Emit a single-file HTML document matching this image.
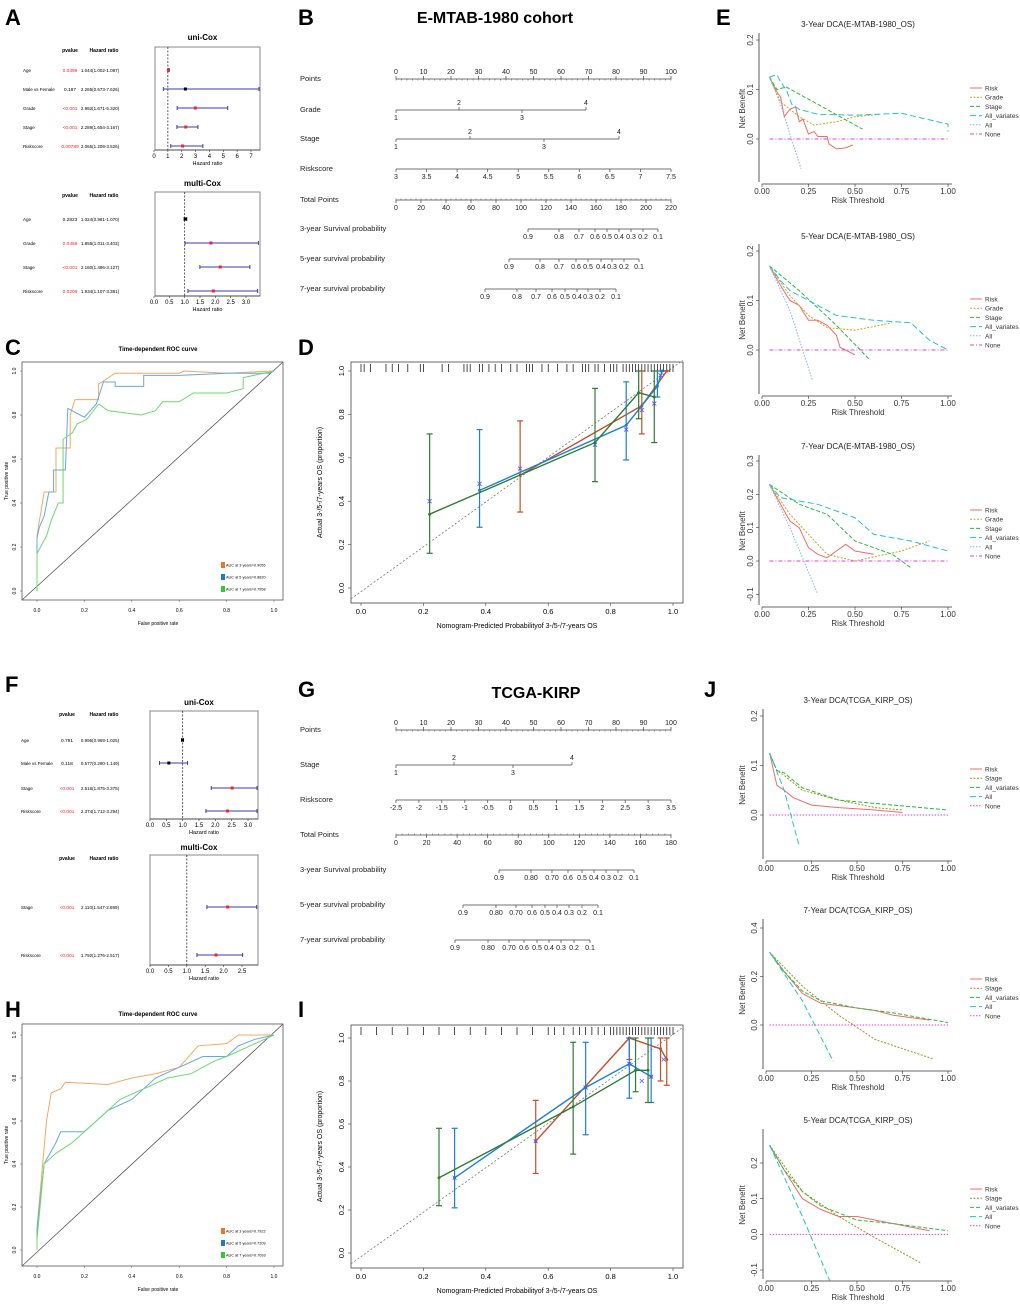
<!DOCTYPE html>
<html><head><meta charset="utf-8"><style>
body{margin:0;background:#fff;}
svg{display:block;font-family:"Liberation Sans",Arial,sans-serif;}
</style></head><body>
<svg id="fig" width="1020" height="1305" viewBox="0 0 1020 1305" xmlns="http://www.w3.org/2000/svg"></svg>
<script>
// ---------- DATA ----------
const uniA_names=["Age","Male vs Female","Grade","Stage","Riskscore"];
const uniA_p=["0.0399","0.187","<0.001","<0.001","0.00789"];
const uniA_hrText=["1.044(1.002-1.087)","2.265(0.673-7.626)","2.982(1.671-5.320)","2.289(1.654-3.167)","2.065(1.209-3.526)"];
const uniA_hr=[1.044,2.265,2.982,2.289,2.065];
const uniA_lo=[1.002,0.673,1.671,1.654,1.209];
const uniA_hi=[1.087,7.626,5.320,3.167,3.526];
const multiA_names=["Age","Grade","Stage","Riskscore"];
const multiA_p=["0.2823","0.0459","<0.001","0.0206"];
const multiA_hrText=["1.024(0.981-1.070)","1.855(1.011-3.403)","2.160(1.496-3.127)","1.934(1.107-3.381)"];
const multiA_hr=[1.024,1.855,2.160,1.934];
const multiA_lo=[0.981,1.011,1.496,1.107];
const multiA_hi=[1.070,3.403,3.127,3.381];
const uniF_names=["Age","Male vs Female","Stage","Riskscore"];
const uniF_p=["0.791","0.118","<0.001","<0.001"];
const uniF_hrText=["0.996(0.969-1.025)","0.577(0.290-1.149)","2.516(1.875-3.375)","2.374(1.712-3.294)"];
const uniF_hr=[0.996,0.577,2.516,2.374];
const uniF_lo=[0.969,0.290,1.875,1.712];
const uniF_hi=[1.025,1.149,3.375,3.294];
const multiF_names=["Stage","Riskscore"];
const multiF_p=["<0.001","<0.001"];
const multiF_hrText=["2.110(1.547-2.899)","1.792(1.276-2.517)"];
const multiF_hr=[2.110,1.792];
const multiF_lo=[1.547,1.276];
const multiF_hi=[2.899,2.517];

// ROC
const rocC_3y=[[0,0],[0,0.25],[0.01,0.32],[0.02,0.38],[0.03,0.45],[0.08,0.45],[0.08,0.65],[0.14,0.65],[0.14,0.8],[0.16,0.87],[0.26,0.87],[0.26,0.94],[0.33,0.99],[0.6,0.99],[0.62,1.0],[0.8,0.99],[1,1]];
const rocC_5y=[[0,0],[0,0.24],[0.01,0.29],[0.03,0.34],[0.05,0.45],[0.07,0.45],[0.07,0.55],[0.12,0.55],[0.13,0.83],[0.2,0.79],[0.25,0.85],[0.28,0.95],[0.33,0.95],[0.33,0.93],[0.45,0.93],[0.45,0.98],[0.6,0.98],[0.8,0.99],[0.98,0.99],[1,1]];
const rocC_7y=[[0,0],[0,0.17],[0.02,0.21],[0.04,0.25],[0.06,0.32],[0.09,0.4],[0.11,0.4],[0.11,0.69],[0.15,0.72],[0.17,0.76],[0.21,0.78],[0.26,0.85],[0.3,0.82],[0.44,0.8],[0.5,0.82],[0.53,0.86],[0.6,0.86],[0.66,0.9],[0.8,0.9],[0.87,0.92],[0.87,0.97],[1,1]];
const rocC_legend=["AUC at 3 years=0.9055","AUC at 5 years=0.8820","AUC at 7 years=0.7958"];
const rocH_3y=[[0,0],[0,0.1],[0.02,0.35],[0.04,0.6],[0.06,0.73],[0.1,0.75],[0.12,0.78],[0.3,0.77],[0.4,0.8],[0.5,0.82],[0.6,0.85],[0.68,0.95],[0.8,0.96],[0.85,1.0],[1,1]];
const rocH_5y=[[0,0],[0,0.1],[0.03,0.4],[0.08,0.5],[0.1,0.55],[0.2,0.55],[0.3,0.65],[0.4,0.7],[0.5,0.8],[0.6,0.85],[0.7,0.9],[0.8,0.9],[0.85,0.95],[0.92,0.98],[1,1]];
const rocH_7y=[[0,0],[0,0.05],[0.03,0.4],[0.08,0.45],[0.15,0.5],[0.25,0.6],[0.35,0.7],[0.45,0.75],[0.55,0.8],[0.65,0.82],[0.75,0.88],[0.8,0.9],[0.9,0.95],[1,1]];
const rocH_legend=["AUC at 3 years=0.7922","AUC at 5 years=0.7209","AUC at 7 years=0.7093"];

// Calibration [pred, obs, lo, hi]
const calD_3y=[[0.51,0.52,0.35,0.77],[0.9,0.84,0.71,1.0],[0.98,1.0,1.0,1.0]];
const calD_5y=[[0.38,0.45,0.28,0.73],[0.85,0.75,0.59,0.95],[0.95,0.93,0.88,1.0],[0.965,1.0,1.0,1.0]];
const calD_7y=[[0.22,0.34,0.16,0.71],[0.75,0.67,0.49,0.92],[0.89,0.9,0.78,1.0],[0.94,0.88,0.67,1.0]];
const calD_x=[[0.22,0.40],[0.38,0.48],[0.51,0.55],[0.75,0.66],[0.85,0.73],[0.9,0.82],[0.94,0.85],[0.96,0.98]];
const calD_rug=[0.0,0.01,0.03,0.08,0.1,0.12,0.15,0.19,0.2,0.26,0.28,0.33,0.34,0.35,0.38,0.39,0.41,0.43,0.45,0.48,0.5,0.53,0.54,0.55,0.58,0.6,0.63,0.66,0.68,0.71,0.72,0.73,0.75,0.76,0.78,0.8,0.81,0.82,0.84,0.85,0.86,0.87,0.88,0.89,0.9,0.91,0.92,0.93,0.94,0.95,0.96,0.97,0.98,0.99,1.0];
const calI_3y=[[0.56,0.52,0.37,0.71],[0.86,1.0,0.9,1.0],[0.96,0.95,0.8,1.0],[0.98,0.9,0.78,1.0]];
const calI_5y=[[0.3,0.35,0.21,0.58],[0.72,0.77,0.55,0.98],[0.86,0.88,0.72,1.0],[0.93,0.82,0.7,1.0]];
const calI_7y=[[0.25,0.35,0.22,0.58],[0.68,0.68,0.46,0.98],[0.88,0.85,0.75,1.0],[0.92,0.85,0.7,1.0]];
const calI_x=[[0.3,0.35],[0.56,0.52],[0.72,0.77],[0.86,0.88],[0.9,0.8],[0.93,0.82],[0.97,0.9]];
const calI_rug=[0.0,0.05,0.1,0.15,0.2,0.25,0.3,0.35,0.4,0.45,0.5,0.55,0.6,0.62,0.65,0.68,0.7,0.72,0.74,0.76,0.78,0.8,0.81,0.82,0.83,0.84,0.85,0.86,0.87,0.88,0.89,0.9,0.91,0.92,0.93,0.94,0.95,0.96,0.97,0.98,0.99,1.0];

// DCA series [threshold, net benefit]
const e1_risk=[[0.04,0.125],[0.08,0.095],[0.1,0.085],[0.12,0.045],[0.15,0.06],[0.18,0.065],[0.2,0.035],[0.22,0.04],[0.25,0.01],[0.28,0.015],[0.3,0.005],[0.35,0.005],[0.36,-0.01],[0.4,-0.02],[0.45,-0.018],[0.49,-0.012]];
const e1_grade=[[0.04,0.125],[0.1,0.075],[0.2,0.045],[0.28,0.028],[0.4,0.035],[0.5,0.045],[0.63,0.05]];
const e1_stage=[[0.04,0.125],[0.08,0.1],[0.13,0.105],[0.3,0.07],[0.54,0.02]];
const e1_allv=[[0.04,0.125],[0.08,0.13],[0.1,0.115],[0.13,0.1],[0.16,0.07],[0.2,0.06],[0.3,0.05],[0.5,0.048],[0.75,0.052],[1.0,0.03],[1.0,0.015]];
const e1_all=[[0.04,0.125],[0.1,0.07],[0.15,0.01],[0.21,-0.06]];
const e2_risk=[[0.04,0.17],[0.1,0.13],[0.15,0.1],[0.2,0.09],[0.25,0.06],[0.3,0.06],[0.35,0.05],[0.4,0.03],[0.42,0.005],[0.45,0.0],[0.5,-0.01]];
const e2_grade=[[0.04,0.17],[0.15,0.11],[0.25,0.07],[0.35,0.045],[0.5,0.04],[0.7,0.055]];
const e2_stage=[[0.04,0.17],[0.2,0.12],[0.4,0.05],[0.58,-0.02]];
const e2_allv=[[0.04,0.17],[0.1,0.14],[0.15,0.12],[0.25,0.1],[0.4,0.07],[0.6,0.06],[0.8,0.055],[0.9,0.02],[1.0,0.0]];
const e2_all=[[0.04,0.17],[0.15,0.08],[0.27,-0.06]];
const e3_risk=[[0.04,0.23],[0.1,0.17],[0.15,0.12],[0.2,0.1],[0.25,0.04],[0.3,0.02],[0.35,0.01],[0.4,0.03],[0.45,0.05],[0.5,0.03],[0.6,0.02]];
const e3_grade=[[0.04,0.23],[0.15,0.14],[0.25,0.08],[0.35,0.02],[0.5,0.0],[0.75,0.03],[0.9,0.06]];
const e3_stage=[[0.04,0.23],[0.2,0.17],[0.35,0.14],[0.5,0.06],[0.7,0.02],[0.8,-0.02]];
const e3_allv=[[0.04,0.23],[0.1,0.19],[0.2,0.18],[0.3,0.17],[0.4,0.15],[0.5,0.13],[0.6,0.08],[0.8,0.06],[1.0,0.03]];
const e3_all=[[0.04,0.23],[0.15,0.1],[0.3,-0.1]];
const j1_risk=[[0.02,0.125],[0.06,0.06],[0.1,0.05],[0.15,0.035],[0.25,0.02],[0.4,0.015],[0.6,0.01],[0.75,0.005]];
const j1_stage=[[0.02,0.125],[0.06,0.09],[0.1,0.08],[0.2,0.05],[0.4,0.03],[0.6,0.015],[0.75,0.01]];
const j1_allv=[[0.02,0.125],[0.06,0.09],[0.1,0.085],[0.2,0.055],[0.4,0.03],[0.7,0.02],[1.0,0.01]];
const j1_all=[[0.02,0.125],[0.1,0.05],[0.18,-0.06]];
const j2_risk=[[0.02,0.3],[0.1,0.22],[0.2,0.13],[0.3,0.09],[0.4,0.08],[0.5,0.07],[0.6,0.06],[0.7,0.04],[0.9,0.02]];
const j2_stage=[[0.02,0.3],[0.2,0.16],[0.4,0.04],[0.6,-0.06],[0.92,-0.14]];
const j2_allv=[[0.02,0.3],[0.1,0.22],[0.2,0.14],[0.3,0.1],[0.5,0.07],[0.7,0.05],[1.0,0.01]];
const j2_all=[[0.02,0.3],[0.2,0.1],[0.37,-0.15]];
const j3_risk=[[0.02,0.25],[0.1,0.18],[0.2,0.1],[0.3,0.07],[0.4,0.05],[0.5,0.05],[0.6,0.04],[0.8,0.02],[0.9,0.01]];
const j3_stage=[[0.02,0.25],[0.2,0.12],[0.4,0.05],[0.6,-0.01],[0.85,-0.08]];
const j3_allv=[[0.02,0.25],[0.1,0.18],[0.2,0.12],[0.3,0.08],[0.5,0.04],[0.7,0.03],[1.0,0.01]];
const j3_all=[[0.02,0.25],[0.2,0.05],[0.35,-0.13]];

// Nomograms
const nomB_rows=[
 {label:"Points",ticks:[0,10,20,30,40,50,60,70,80,90,100],pos:[396,423.5,451,478.5,506,533.5,561,588.5,616,643.5,671],minor:true,above:true,y:79},
 {label:"Grade",ticks:["1","2","3","4"],pos:[396,459,522,586],alt:true,y:110},
 {label:"Stage",ticks:["1","2","3","4"],pos:[396,470,544,619],alt:true,y:139},
 {label:"Riskscore",ticks:["3","3.5","4","4.5","5","5.5","6","6.5","7","7.5"],pos:[396,426.6,457.1,487.7,518.2,548.8,579.3,609.9,640.4,671],y:169},
 {label:"Total Points",ticks:[0,20,40,60,80,100,120,140,160,180,200,220],pos:[396,421,446,471,496,521,546,571,596,621,646,671],minor:true,y:200},
 {label:"3-year Survival probability",ticks:["0.9","0.8","0.7","0.6","0.5","0.4","0.3","0.2","0.1"],pos:[528,559,579,595,607,619,631,643,658],y:229},
 {label:"5-year survival probability",ticks:["0.9","0.8","0.7","0.6","0.5","0.4","0.3","0.2","0.1"],pos:[509,540,559,576,588,601,612,624,639],y:259},
 {label:"7-year survival probability",ticks:["0.9","0.8","0.7","0.6","0.5","0.4","0.3","0.2","0.1"],pos:[485,517,536,552,565,577,588,600,616],y:289}];
const nomG_rows=[
 {label:"Points",ticks:[0,10,20,30,40,50,60,70,80,90,100],pos:[396,423.5,451,478.5,506,533.5,561,588.5,616,643.5,671],minor:true,above:true,y:730},
 {label:"Stage",ticks:["1","2","3","4"],pos:[396,454,513,572],alt:true,y:765},
 {label:"Riskscore",ticks:["-2.5","-2","-1.5","-1","-0.5","0","0.5","1","1.5","2","2.5","3","3.5"],pos:[396,418.9,441.8,464.8,487.7,510.6,533.5,556.4,579.3,602.3,625.2,648.1,671],y:800},
 {label:"Total Points",ticks:[0,20,40,60,80,100,120,140,160,180],pos:[396,426.6,457.1,487.7,518.2,548.8,579.3,609.9,640.4,671],minor:true,y:835},
 {label:"3-year Survival probability",ticks:["0.9","0.80","0.70","0.6","0.5","0.4","0.3","0.2","0.1"],pos:[499,531,552,568,582,594,606,618,634],y:870},
 {label:"5-year survival probability",ticks:["0.9","0.80","0.70","0.6","0.5","0.4","0.3","0.2","0.1"],pos:[463,496,516,532,545,557,569,582,598],y:905},
 {label:"7-year survival probability",ticks:["0.9","0.80","0.70","0.6","0.5","0.4","0.3","0.2","0.1"],pos:[455,488,509,524,537,549,561,574,590],y:940}];

// ---------- HELPERS ----------
const svg=document.getElementById('fig');
const NS="http://www.w3.org/2000/svg";
function mk(tag,attrs,name,parent){
  const el=document.createElementNS(NS,tag);
  for(const k in attrs) el.setAttribute(k,attrs[k]);
  
  
  (parent||svg).appendChild(el);return el;
}
function txt(x,y,s,size,name,opt){
  opt=opt||{};
  const a={x:x,y:y,'font-size':size,fill:opt.fill||'#000','text-anchor':opt.anchor||'middle'};
  if(opt.bold)a['font-weight']='bold';
  if(opt.rot!==undefined)a.transform='rotate('+opt.rot+' '+x+' '+y+')';
  const t=mk('text',a,name);t.textContent=s;return t;
}
function line(x1,y1,x2,y2,stroke,w,name,dash){
  const a={x1:x1,y1:y1,x2:x2,y2:y2,stroke:stroke,'stroke-width':w};
  if(dash)a['stroke-dasharray']=dash;
  return mk('line',a,name);
}
function lin(d0,d1,r0,r1){return v=>r0+(v-d0)*(r1-r0)/(d1-d0);}
function poly(pts,sx,sy,stroke,w,name,dash){
  const a={points:pts.map(p=>sx(p[0]).toFixed(1)+','+sy(p[1]).toFixed(1)).join(' '),fill:'none',stroke:stroke,'stroke-width':w};
  if(dash)a['stroke-dasharray']=dash;
  return mk('polyline',a,name);
}

// panel letters
[["A",5,25],["B",298,25],["C",5,355],["D",298,355],["E",716,25],["F",5,692],["G",298,697],["H",5,1017],["I",298,1017],["J",704,697]].forEach(l=>{
  txt(l[1],l[2],l[0],22,'panel-label-'+l[0].toLowerCase(),{anchor:'start',bold:true});
});

// ---------- FOREST ----------
function forest(id,title,titleY,box,dmax,ticks,tickLabels,rowsY,names,p,hrText,hr,lo,hi,cols){
  txt((box.x0+box.x1)/2-5,titleY,title,8,id+'-title',{bold:true});
  txt(cols.p,box.y0+5,'pvalue',5,id+'-pvalue-header',{bold:true});
  txt(cols.hr+4,box.y0+5,'Hazard ratio',5,id+'-hr-header',{bold:true});
  mk('rect',{x:box.x0,y:box.y0,width:box.x1-box.x0,height:box.y1-box.y0,fill:'none',stroke:'#888','stroke-width':1},id+'-frame');
  const sx=lin(0,ticks[ticks.length-1],box.ax0,box.ax1);
  line(sx(1),box.y0,sx(1),box.y1,'#333',0.8,id+'-ref-line','2,1.5');
  line(box.x0,box.y1,box.x1,box.y1,'#333',0.8,id+'-x-axis');
  ticks.forEach((t,i)=>{line(sx(t),box.y1,sx(t),box.y1+2,'#333',0.6,id+'-tick');txt(sx(t),box.y1+8,tickLabels[i],6,id+'-tick-label');});
  txt((box.x0+box.x1)/2,box.y1+15,'Hazard ratio',5.5,id+'-x-title');
  rowsY.forEach((y,i)=>{
    const red=p[i].charAt(0)==='<'||parseFloat(p[i])<0.05;
    txt(cols.name,y+2,names[i],4.5,id+'-row-name',{anchor:'start'});
    txt(cols.p,y+2,p[i],4.8,id+'-row-pvalue',{fill:red?'#ff2020':'#000'});
    txt(cols.hr,y+2,hrText[i],4.5,id+'-row-hr');
    const a=Math.max(sx(lo[i]),box.x0),b=Math.min(sx(hi[i]),box.x1-1);
    line(a,y,b,y,'#3a3ab0',1,id+'-ci-line');
    line(a,y-2,a,y+2,'#3a3ab0',1,id+'-ci-cap');
    line(b,y-2,b,y+2,'#3a3ab0',1,id+'-ci-cap');
    mk('rect',{x:sx(hr[i])-1.5,y:y-1.5,width:3,height:3,fill:red?'#ff2020':'#000'},id+'-hr-point');
  });
}
forest('forest-a-uni','uni-Cox',40,{x0:155,x1:260,y0:47,y1:150,ax0:154,ax1:251},7,[0,1,2,3,4,5,6,7],["0","1","2","3","4","5","6","7"],[70,89,108,127,146],uniA_names,uniA_p,uniA_hrText,uniA_hr,uniA_lo,uniA_hi,{name:23,p:70,hr:100});
forest('forest-a-multi','multi-Cox',186,{x0:155,x1:260,y0:192,y1:296,ax0:154,ax1:246},3,[0,0.5,1,1.5,2,2.5,3],["0.0","0.5","1.0","1.5","2.0","2.5","3.0"],[219,243,267,291],multiA_names,multiA_p,multiA_hrText,multiA_hr,multiA_lo,multiA_hi,{name:23,p:70,hr:100});
forest('forest-f-uni','uni-Cox',705,{x0:150,x1:258,y0:711,y1:819,ax0:150,ax1:248},3,[0,0.5,1,1.5,2,2.5,3],["0.0","0.5","1.0","1.5","2.0","2.5","3.0"],[740,763,788,811],uniF_names,uniF_p,uniF_hrText,uniF_hr,uniF_lo,uniF_hi,{name:21,p:67,hr:100});
forest('forest-f-multi','multi-Cox',850,{x0:150,x1:258,y0:855,y1:965,ax0:150,ax1:242},2.5,[0,0.5,1,1.5,2,2.5],["0.0","0.5","1.0","1.5","2.0","2.5"],[907,955],multiF_names,multiF_p,multiF_hrText,multiF_hr,multiF_lo,multiF_hi,{name:21,p:67,hr:100});

// ---------- NOMOGRAM ----------
function nomogram(id,title,tx,ty,rows){
  txt(tx,ty,title,16,id+'-title',{bold:true});
  rows.forEach(r=>{
    txt(300,r.y+(r.above?2:2),r.label,7.5,id+'-row-label',{anchor:'start',fill:'#222'});
    const p0=r.pos[0],p1=r.pos[r.pos.length-1];
    line(p0,r.y,p1,r.y,'#444',0.8,id+'-axis-line');
    if(r.minor){const n=(r.pos.length-1)*5;for(let k=0;k<=n;k++){const x=p0+(p1-p0)*k/n;line(x,r.y,x,r.y+(r.above?1.5:-1.5),'#444',0.5,id+'-minor-tick');}}
    r.ticks.forEach((t,i)=>{
      const x=r.pos[i];
      let up=r.above||(r.alt&&i%2===1);
      line(x,r.y,x,r.y+(up?-3:3),'#444',0.7,id+'-tick');
      txt(x,up?r.y-5:r.y+10,String(t),7,id+'-tick-label',{fill:'#222'});
    });
  });
}
nomogram('nomogram-b','E-MTAB-1980 cohort',495,23,nomB_rows);
nomogram('nomogram-g','TCGA-KIRP',536,698,nomG_rows);

// ---------- ROC ----------
function roc(id,box,yTop,yBot,series,legend,titleY){
  const sx=lin(0,1,37,274),sy=lin(0,1,yBot,yTop);
  txt(158,titleY,'Time-dependent ROC curve',6,id+'-title',{bold:true});
  mk('rect',{x:box.x0,y:box.y0,width:box.x1-box.x0,height:box.y1-box.y0,fill:'none',stroke:'#555','stroke-width':0.8},id+'-frame');
  [0,0.2,0.4,0.6,0.8,1].forEach(v=>{
    txt(sx(v),box.y1+12,v.toFixed(1),5,id+'-x-tick-label');
    line(sx(v),box.y1,sx(v),box.y1+2,'#555',0.5,id+'-x-tick');
    txt(box.x0-6,sy(v),v.toFixed(1),5,id+'-y-tick-label',{rot:-90});
    line(box.x0-2,sy(v),box.x0,sy(v),'#555',0.5,id+'-y-tick');
  });
  txt(158,box.y1+25,'False positive rate',5,id+'-x-title');
  txt(8,(box.y0+box.y1)/2,'True positive rate',5,id+'-y-title',{rot:-90});
  line(box.x0,box.y1,box.x1,box.y0,'#555',0.8,id+'-diagonal');
  const cols=['#F6A860','#64A8E8','#6ED86E'];
  series.forEach((s,i)=>poly(s,sx,sy,cols[i],1,id+'-curve-'+[3,5,7][i]+'y'));
  const lc=['#E8772E','#1F78C8','#2ECC2E'];
  legend.forEach((l,i)=>{
    const y=box.y1-35+i*12;
    mk('rect',{x:221,y:y-3,width:4,height:6,fill:lc[i]},id+'-legend-swatch');
    txt(226,y+1.5,l,3.8,id+'-legend-label',{anchor:'start'});
  });
}
roc('roc-c',{x0:22,x1:283,y0:362,y1:600},371,591,[rocC_3y,rocC_5y,rocC_7y],rocC_legend,351);
roc('roc-h',{x0:22,x1:283,y0:1024,y1:1266},1035,1250,[rocH_3y,rocH_5y,rocH_7y],rocH_legend,1016);

// ---------- CALIBRATION ----------
function calib(id,box,yTop,yBot,series,xs,rug,xlabY){
  const sx=lin(0,1,361,673),sy=lin(0,1,yBot,yTop);
  mk('rect',{x:box.x0,y:box.y0,width:box.x1-box.x0,height:box.y1-box.y0,fill:'none',stroke:'#444','stroke-width':0.8},id+'-frame');
  [0,0.2,0.4,0.6,0.8,1].forEach(v=>{
    line(sx(v),box.y1,sx(v),box.y1+3,'#444',0.6,id+'-x-tick');
    txt(sx(v),box.y1+11,v.toFixed(1),7.5,id+'-x-tick-label');
    line(box.x0-3,sy(v),box.x0,sy(v),'#444',0.6,id+'-y-tick');
    txt(box.x0-7,sy(v),v.toFixed(1),7.5,id+'-y-tick-label',{rot:-90});
  });
  txt((box.x0+box.x1)/2,xlabY,'Nomogram-Predicted Probabilityof 3-/5-/7-years OS',7,id+'-x-title');
  txt(322,(box.y0+box.y1)/2,'Actual 3-/5-/7-years OS (proportion)',7,id+'-y-title',{rot:-90});
  line(box.x0,sy(-0.05),box.x1,sy(1.05),'#777',0.8,id+'-ideal-line','2,2');
  rug.forEach(v=>line(sx(v),box.y0+2,sx(v),box.y0+10,'#000',0.7,id+'-rug-tick'));
  const cols=['#C0502A','#1E7FD8','#2E7D32'];
  series.forEach((s,i)=>{
    const nm=id+'-'+[3,5,7][i]+'y';
    poly(s.map(p=>[p[0],p[1]]),sx,sy,cols[i],1.4,nm+'-line');
    s.forEach(p=>{
      line(sx(p[0]),sy(p[2]),sx(p[0]),sy(p[3]),cols[i],1.2,nm+'-errorbar');
      line(sx(p[0])-3,sy(p[2]),sx(p[0])+3,sy(p[2]),cols[i],1.2,nm+'-errorbar-cap');
      line(sx(p[0])-3,sy(p[3]),sx(p[0])+3,sy(p[3]),cols[i],1.2,nm+'-errorbar-cap');
      mk('circle',{cx:sx(p[0]),cy:sy(p[1]),r:1.5,fill:cols[i]},nm+'-point');
    });
  });
  xs.forEach(p=>{
    const x=sx(p[0]),y=sy(p[1]);
    line(x-2,y-2,x+2,y+2,'#5555ee',0.8,id+'-bias-corrected-x');
    line(x-2,y+2,x+2,y-2,'#5555ee',0.8,id+'-bias-corrected-x');
  });
}
calib('calibration-d',{x0:351,x1:683,y0:362,y1:603},371,588,[calD_3y,calD_5y,calD_7y],calD_x,calD_rug,628);
calib('calibration-i',{x0:351,x1:683,y0:1025,y1:1268},1038,1253,[calI_3y,calI_5y,calI_7y],calI_x,calI_rug,1293);

// ---------- DCA ----------
function dca(id,cfg){
  const sx=lin(0,1,cfg.x0,948),sy=lin(cfg.t0,cfg.t1,cfg.p0,cfg.p1);
  txt(858,cfg.titleY,cfg.title,8,id+'-title',{fill:'#222'});
  line(cfg.x0-3,cfg.yTop,cfg.x0-3,cfg.axisY-2,'#333',0.8,id+'-y-axis');
  line(cfg.x0,cfg.axisY,952,cfg.axisY,'#333',0.8,id+'-x-axis');
  cfg.yticks.forEach(v=>{
    line(cfg.x0-6,sy(v),cfg.x0-3,sy(v),'#333',0.6,id+'-y-tick');
    txt(cfg.x0-9,sy(v),v.toFixed(1),8,id+'-y-tick-label',{rot:-90,fill:'#333'});
  });
  [0,0.25,0.5,0.75,1].forEach(v=>{
    line(sx(v),cfg.axisY,sx(v),cfg.axisY+3,'#333',0.6,id+'-x-tick');
    txt(sx(v),cfg.axisY+10,v.toFixed(2),8,id+'-x-tick-label',{fill:'#333'});
  });
  txt(858,cfg.axisY+19,'Risk Threshold',8,id+'-x-title',{fill:'#333'});
  txt(745,(cfg.yTop+cfg.axisY)/2,'Net Benefit',8,id+'-y-title',{rot:-90,fill:'#333'});
  mk('line',{x1:sx(cfg.noneFrom),y1:sy(0),x2:sx(1),y2:sy(0),stroke:'#E040E0','stroke-width':1,'stroke-dasharray':cfg.noneDash},id+'-none-line');
  cfg.series.forEach(s=>poly(s.d,sx,sy,s.c,1,id+'-'+s.n.toLowerCase().replace('_','-')+'-line',s.dash));
  const leg=cfg.series.map(s=>[s.n,s.c,s.dash]).concat([['None','#E040E0',cfg.noneDash]]);
  leg.forEach((l,i)=>{
    const y=cfg.legY+i*9.2;
    line(970,y,982,y,l[1],1,id+'-legend-key',l[2]);
    txt(985,y+2.5,l[0],6.5,id+'-legend-label',{anchor:'start',fill:'#333'});
  });
}
const C_R='#F26B6B',C_G='#C0A828',C_S='#2DB83D',C_AV='#22C4C8',C_A='#8AAEE8';
dca('dca-e1',{title:'3-Year DCA(E-MTAB-1980_OS)',titleY:27,x0:762,t0:0,t1:0.2,p0:139,p1:40,yTop:33,axisY:184,yticks:[0,0.1,0.2],legY:88,noneFrom:0.04,noneDash:'4,2,1,2',
 series:[{n:'Risk',d:e1_risk,c:C_R},{n:'Grade',d:e1_grade,c:C_G,dash:'2,1.5'},{n:'Stage',d:e1_stage,c:C_S,dash:'4,2'},{n:'All_variates',d:e1_allv,c:C_AV,dash:'6,3'},{n:'All',d:e1_all,c:C_A,dash:'1.5,1.5'}]});
dca('dca-e2',{title:'5-Year DCA(E-MTAB-1980_OS)',titleY:239,x0:762,t0:0,t1:0.2,p0:350,p1:251,yTop:244,axisY:396,yticks:[0,0.1,0.2],legY:299,noneFrom:0.04,noneDash:'4,2,1,2',
 series:[{n:'Risk',d:e2_risk,c:C_R},{n:'Grade',d:e2_grade,c:C_G,dash:'2,1.5'},{n:'Stage',d:e2_stage,c:C_S,dash:'4,2'},{n:'All_variates',d:e2_allv,c:C_AV,dash:'6,3'},{n:'All',d:e2_all,c:C_A,dash:'1.5,1.5'}]});
dca('dca-e3',{title:'7-Year DCA(E-MTAB-1980_OS)',titleY:449,x0:762,t0:0,t1:0.3,p0:561,p1:461,yTop:455,axisY:607,yticks:[-0.1,0,0.1,0.2,0.3],legY:510,noneFrom:0.04,noneDash:'4,2,1,2',
 series:[{n:'Risk',d:e3_risk,c:C_R},{n:'Grade',d:e3_grade,c:C_G,dash:'2,1.5'},{n:'Stage',d:e3_stage,c:C_S,dash:'4,2'},{n:'All_variates',d:e3_allv,c:C_AV,dash:'6,3'},{n:'All',d:e3_all,c:C_A,dash:'1.5,1.5'}]});
dca('dca-j1',{title:'3-Year DCA(TCGA_KIRP_OS)',titleY:703,x0:766,t0:0,t1:0.2,p0:815,p1:716,yTop:709,axisY:861,yticks:[0,0.1,0.2],legY:769,noneFrom:0.02,noneDash:'1.5,1.5',
 series:[{n:'Risk',d:j1_risk,c:C_R},{n:'Stage',d:j1_stage,c:'#A89020',dash:'2,1.5'},{n:'All_variates',d:j1_allv,c:C_S,dash:'4,2'},{n:'All',d:j1_all,c:C_AV,dash:'6,3'}]});
dca('dca-j2',{title:'7-Year DCA(TCGA_KIRP_OS)',titleY:913,x0:766,t0:0,t1:0.4,p0:1025,p1:928,yTop:919,axisY:1071,yticks:[0,0.2,0.4],legY:979,noneFrom:0.02,noneDash:'1.5,1.5',
 series:[{n:'Risk',d:j2_risk,c:C_R},{n:'Stage',d:j2_stage,c:'#A89020',dash:'2,1.5'},{n:'All_variates',d:j2_allv,c:C_S,dash:'4,2'},{n:'All',d:j2_all,c:C_AV,dash:'6,3'}]});
dca('dca-j3',{title:'5-Year DCA(TCGA_KIRP_OS)',titleY:1123,x0:766,t0:-0.1,t1:0.2,p0:1270,p1:1163,yTop:1129,axisY:1281,yticks:[-0.1,0,0.1,0.2],legY:1189,noneFrom:0.02,noneDash:'1.5,1.5',
 series:[{n:'Risk',d:j3_risk,c:C_R},{n:'Stage',d:j3_stage,c:'#A89020',dash:'2,1.5'},{n:'All_variates',d:j3_allv,c:C_S,dash:'4,2'},{n:'All',d:j3_all,c:C_AV,dash:'6,3'}]});
</script>
</body></html>
